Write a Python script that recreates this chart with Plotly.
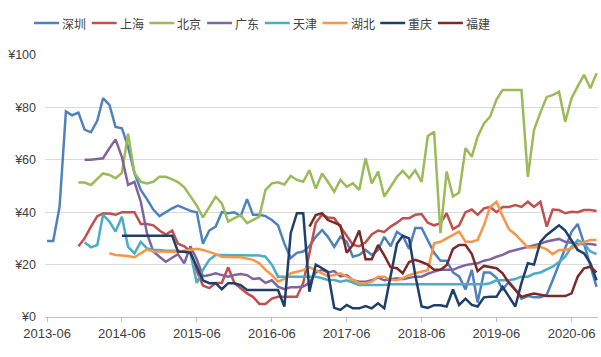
import plotly.graph_objects as go
import pandas as pd

months = pd.date_range("2013-06-01", "2020-10-01", freq="MS").strftime("%Y-%m-%d").tolist()
N = len(months)  # 89

def pad(start, vals):
    out = [None] * start + list(vals)
    return out + [None] * (N - len(out))

shenzhen = [29, 29, 42, 78.5, 77, 78, 71.5, 70.5, 75, 83.5, 81, 72.5, 72, 65, 55, 48.5, 45, 41,
            38.5, 40, 41.5, 42.5, 41.5, 40.5, 40, 28, 33, 34.5, 40, 39.6, 40, 38.5, 45, 39, 39, 38.5,
            37, 35, 28, 22.5, 24.5, 25, 27, 30.6, 33.2, 30.6, 26.8, 30.6, 28.7, 23, 23.7, 25.6, 23.7, 25.6,
            30.6, 27, 32.5, 31, 26, 34, 34, 29, 24.5, 21.5, 21.5, 17, 15.5, 10.5, 18, 5.5, 17, 17,
            15, 10.5, 13.5, 10.5, 7, 8, 7.5, 7.5, 8.5, 14, 20, 26.5, 32.5, 35.5, 28, 19.5, 11.5]

shanghai = pad(5, [27, 30, 34.5, 38.5, 39.5, 39.5, 39, 40, 40, 40, 35.5, 35.5, 35, 33, 31.5, 33, 28, 27,
                   25, 17.5, 12, 11, 13, 13, 19, 13, 11, 9, 7.7, 5, 5, 7, 7.7, 7.7, 7.7, 7.7, 13, 25,
                   36, 39, 38, 37.7, 34.5, 31, 27.5, 27, 28.5, 31.5, 33, 32.5, 34.5, 36, 37.7, 37.7, 39, 39.3,
                   36, 35, 35.8, 39.6, 33.5, 35, 40, 41, 39, 41.5, 42, 40, 42, 42, 42.7, 42, 44, 42,
                   44, 34.5, 41, 40.8, 39.6, 40.2, 40, 40.8, 40.8, 40.5])

beijing = pad(5, [51.3, 51.3, 50.4, 52.9, 54.8, 54.2, 53, 55, 70, 55, 51.6, 51, 51.6, 53.5, 53.5, 52.5, 51.5,
                  49.5, 46, 42.5, 38, 42, 45.9, 43.4, 36.4, 37.7, 38.9, 35.8, 37, 38.3, 48.5, 51, 51.4, 50.6,
                  53.8, 52.3, 51.6, 56, 49, 54.8, 51.6, 47.8, 52.3, 49.7, 51, 48.5, 60.6, 51, 55.5, 46, 49.7,
                  53.5, 55.8, 53, 56, 51.6, 69, 70.7, 32, 55.5, 46, 47.5, 64.4, 61.2, 68.8, 73.9, 76.5, 83,
                  86.6, 86.6, 86.4, 86.6, 53.5, 71.4, 78, 84, 84.7, 86, 74.5, 83.5, 88, 92.4, 87.3, 93])

guangdong = pad(6, [60, 60, 60.3, 60.6, 64.4, 67.8, 61, 50.4, 51.6, 44, 32, 25, 23, 21.1, 22.6, 24, 20.5,
                    27, 22, 15.5, 16, 16.7, 16, 15.4, 16, 16.4, 16, 14.5, 14.8, 13, 14, 11.6, 10.6, 11.4,
                    11.4, 11.6, 13, 17, 18, 17, 17.5, 15.5, 16, 14, 13.5, 13.5, 14, 15, 14, 14.5, 14.8,
                    14.4, 15, 15.4, 15.4, 16.5, 17.3, 18, 18, 18, 19, 19.8, 20.2, 20.5, 21.5, 22, 23, 23.7,
                    24.9, 25.5, 26.2, 26.8, 27.5, 28, 28.8, 29.4, 29.8, 28.7, 28.2, 28, 27.9, 27.9, 27.5])

tianjin = pad(6, [28.5, 26.6, 27.5, 39, 36.4, 32.6, 38.3, 26.8, 24.3, 28.7, 26.2, 25.6, 25.6, 25.3, 25.3,
                  25.3, 24.9, 24.3, 13, 18, 21.8, 23.7, 23.7, 23.7, 23.7, 23.7, 23.7, 23.7, 23.5, 23, 20,
                  15.4, 15.4, 15.4, 15.4, 15.4, 15.4, 15.4, 14.8, 14.1, 14.1, 13.5, 14, 13, 12.2, 12.2, 12.2,
                  12.2, 12.2, 12.5, 12.5, 12.5, 12.5, 12.5, 12.5, 12.5, 12.5, 12.5, 12.5, 12.5, 12.5, 12.5,
                  12.5, 12.5, 12.5, 12.9, 14, 14, 14, 14.5, 15.4, 15.4, 16.5, 17, 18, 19.2, 21, 23, 26.8,
                  29.4, 28, 25, 24])

hubei = pad(10, [24.3, 23.7, 23.5, 23.3, 22.8, 24.5, 25.8, 25, 24.9, 24.9, 24.9, 24.9, 25.3, 25.8, 26, 25.6,
                 24.9, 24, 23, 22.8, 22.8, 22.8, 22.4, 21.8, 20.5, 18, 16, 13.5, 14.5, 16.7, 17.3, 17.9, 19,
                 17.9, 16.7, 15.6, 16, 16.7, 15.4, 14.1, 12.9, 12.9, 13.5, 15.4, 15.4, 14.1, 14.1, 14.8, 16,
                 16.7, 17.3, 17.9, 28.1, 28.7, 30, 31.3, 32.6, 28.7, 28.7, 29.4, 35, 42, 44, 38.5, 33.5,
                 31.5, 29, 26.5, 26.5, 26.8, 25.8, 24, 25.6, 25.6, 26.2, 27.5, 28.7, 29.4, 29.4])

chongqing = pad(12, [31, 31, 31, 31, 31, 31, 31, 31, 31, 25, 24.9, 24.5, 19, 14, 12.9, 12.9, 10.6, 12.9,
                     12.9, 12.2, 10.3, 10.3, 10.3, 10.3, 10.3, 10.3, 4, 32, 39.6, 39.6, 9.7, 20, 18.6, 17.3,
                     3.5, 2.7, 4.6, 3.3, 3.3, 4.2, 3.3, 5.2, 3.3, 15, 28, 31, 30, 16, 4, 3.5, 4.5, 4.5, 4,
                     10.5, 4.6, 7, 4.6, 4, 7.5, 7.7, 7.7, 11.5, 7.7, 4, 13, 20.5, 20, 28.7, 31.3, 33.2, 35,
                     33, 29.4, 25.6, 24.3, 20.5, 14])

fujian = pad(42, [34.5, 38.9, 39.6, 37, 36, 35, 24.5, 27.5, 33, 22, 22, 27.5, 23.5, 19, 18.6, 16.7, 21, 21.8,
                  21, 20, 18, 18, 19.8, 26, 27.5, 27.5, 24, 17.5, 19.5, 19, 18.6, 16.7, 13, 10.3, 7.7, 8.4,
                  9, 8.5, 8, 8, 8, 8, 9, 15.4, 18.6, 19.2, 17])

names = ["深圳", "上海", "北京", "广东", "天津", "湖北", "重庆", "福建"]
series = [shenzhen, shanghai, beijing, guangdong, tianjin, hubei, chongqing, fujian]
colors = ["#4F81BD", "#C0504D", "#9BBB59", "#8064A2", "#4BACC6", "#F79646", "#1F3F6B", "#7B2A2A"]

W, H = 601, 357
ML, MR, MT, MB = 45, 3, 55, 40
PW, PH = W - ML - MR, H - MT - MB

fig = go.Figure()
for name, vals, col in zip(names, series, colors):
    fig.add_trace(go.Scatter(x=months, y=vals, name=name, mode="lines",
                             line=dict(color=col, width=2.5), connectgaps=False,
                             showlegend=False))

# legend row drawn with shapes + text (compact Excel-style legend)
def px_x(p):
    return (p - ML) / PW

def px_y(p):
    return (H - MB - p) / PH

leg_y = 23
shapes, annotations = [], []
for k, (name, col) in enumerate(zip(names, colors)):
    x0 = 34 + 57.7 * k
    shapes.append(dict(type="line", xref="paper", yref="paper",
                       x0=px_x(x0), x1=px_x(x0 + 25), y0=px_y(leg_y), y1=px_y(leg_y),
                       line=dict(color=col, width=2.5)))
    annotations.append(dict(xref="paper", yref="paper", x=px_x(x0 + 26), y=px_y(leg_y),
                            xanchor="left", yanchor="middle", showarrow=False, text=name,
                            font=dict(family="Noto Sans CJK SC", size=12, color="#404040")))

fig.update_layout(
    width=W, height=H,
    margin=dict(l=ML, r=MR, t=MT, b=MB, autoexpand=False),
    paper_bgcolor="white", plot_bgcolor="white",
    font=dict(family="Liberation Sans, Arial", size=13, color="#404040"),
    showlegend=False,
    shapes=shapes, annotations=annotations,
    xaxis=dict(type="date", range=["2013-05-22", "2020-10-08"], automargin=False,
               tick0="2013-06-01", dtick="M12", tickformat="%Y-%m",
               showgrid=False, showline=True, linecolor="#BFBFBF", linewidth=1,
               ticks="outside", ticklen=4, tickcolor="#BFBFBF",
               tickfont=dict(size=13, color="#404040")),
    yaxis=dict(range=[0, 100], dtick=20, tickprefix="¥", showgrid=True, automargin=False,
               gridcolor="#D9D9D9", gridwidth=1, zeroline=False, showline=False,
               ticks="", ticklabelstandoff=8, tickfont=dict(size=12.5, color="#404040")),
)

fig.write_html("out.html", config={"displayModeBar": False},
               post_script="document.body.style.margin='0';document.body.style.padding='0';")
